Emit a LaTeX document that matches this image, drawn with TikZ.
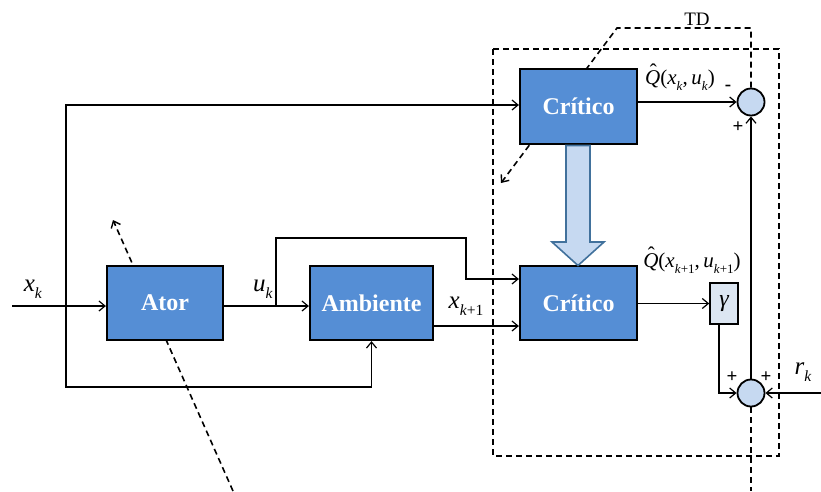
\documentclass[tikz,border=0pt]{standalone}
\usepackage{fontspec}
\setmainfont{Liberation Serif}
\usetikzlibrary{arrows.meta,backgrounds}
\definecolor{boxblue}{HTML}{558ED5}
\definecolor{lightblue}{HTML}{C6D9F1}
\definecolor{paleblue}{HTML}{DCE6F2}
\definecolor{arrowedge}{HTML}{41719C}
\newcommand{\sbs}[1]{\raisebox{-0.28em}{\scalebox{0.62}{#1}}}
\newcommand{\iv}[2]{\textit{#1}\sbs{#2}}
\newcommand{\qhat}{\makebox[0pt][l]{\hspace{0.22em}\raisebox{0.3em}{ˆ}}\textit{Q}}
\tikzset{
  blk/.style={draw=black, line width=2.2pt, fill=boxblue, text=white,
    font=\fontsize{24}{26}\selectfont\bfseries, minimum height=74pt, inner sep=0pt},
  sumc/.style={circle, draw=black, line width=1.8pt, fill=lightblue, minimum size=27pt, inner sep=0pt},
  gbox/.style={draw=black, line width=1.6pt, fill=paleblue, minimum width=28pt, minimum height=41pt, inner sep=0pt, font=\fontsize{24}{26}\selectfont\itshape},
  arr/.style={line width=1.2pt, -{Straight Barb[length=6pt,width=10pt,line width=1.2pt]}},
  dsh/.style={line width=1.6pt, dash pattern=on 6pt off 4pt},
  darr/.style={dsh, -{Straight Barb[length=6pt,width=10pt,line width=1.4pt]}},
  lbl/.style={font=\fontsize{25}{27}\selectfont, inner sep=0pt},
  qlbl/.style={font=\fontsize{21}{23}\selectfont, inner sep=0pt},
  sgn/.style={font=\fontsize{19}{21}\selectfont\bfseries, inner sep=0pt}
}
\begin{document}
\begin{tikzpicture}[x=1pt,y=-1pt]
\useasboundingbox (0,0) rectangle (821,491);
% blocks
\node[blk, minimum width=116pt] (ator) at (165,303) {Ator};
\node[blk, minimum width=123pt] (amb) at (371.5,303) {Ambiente};
\node[blk, minimum width=117pt, minimum height=75pt] (crit1) at (578.5,106.5) {Crítico};
\node[blk, minimum width=117pt] (crit2) at (578.5,303) {Crítico};
\node[gbox] (gam) at (724,303.5) {γ};
\node[sumc] (s1) at (751,102) {};
\node[sumc] (s2) at (751,393) {};
% big arrow
\draw[line width=1.6pt, draw=arrowedge, fill=lightblue]
  (566,145.5) -- (590,145.5) -- (590,242) -- (604,242) -- (578,265.5) -- (552,242) -- (566,242) -- cycle;
% coordinates
\coordinate (xin) at (12,306);
\coordinate (br1) at (66,306);
\coordinate (c1in) at (520,105);
\coordinate (bl) at (66,387);
\coordinate (ub) at (276,306);
\coordinate (uup) at (466,238);
\coordinate (c2a) at (466,279);
\coordinate (ao) at (433,326);
\coordinate (rin) at (821,393);
% connectors
\draw[arr] (xin) -- (ator.west |- xin);
\draw[arr] (br1) |- (crit1.west |- c1in);
\draw[arr] (br1) -- (bl) -| (amb.south);
\draw[arr] (ator.east |- xin) -- (amb.west |- xin);
\draw[arr] (ub) |- (uup) -- (c2a) -- (crit2.west |- c2a);
\draw[arr] (amb.east |- ao) -- (crit2.west |- ao);
\draw[arr] (crit1.east |- s1.west) -- (s1.west);
\draw[arr] (crit2.east |- gam.west) -- (gam.west);
\draw[arr] ([xshift=-5pt]gam.south) |- (s2.west);
\draw[arr] (rin) -- (s2.east);
\draw[arr] (s2.north) -- (s1.south);
% dashed elements behind
\begin{pgfonlayer}{background}
\draw[dsh] (493,49) rectangle (779,456);
\draw[darr] (s1.north) -- (751,28) -- (617,28) -- (501,183);
\draw[dsh] (s2.south) -- (751,491);
\draw[darr] (233,491) -- (113,220);
\end{pgfonlayer}
% labels
\node[lbl] (lxk) at (33,289) {\iv{x}{\textit{k}}};
\node[lbl] (luk) at (263,289) {\iv{u}{\textit{k}}};
\node[lbl] (lxk1) at (466,306) {\iv{x}{\textit{k}+1}};
\node[qlbl] (lq1) at (680,77) {\qhat(\iv{x}{\textit{k}},\,\iv{u}{\textit{k}})};
\node[qlbl] (lq2) at (692,260) {\qhat(\iv{x}{\textit{k}+1},\,\iv{u}{\textit{k}+1})};
\node[lbl] (lrk) at (803,372) {\iv{r}{\textit{k}}};
\node[font=\fontsize{19}{21}\selectfont] (ltd) at (697,19) {TD};
\node[sgn] (m1) at (728,88) {-};
\node[sgn] (p1) at (738,127) {+};
\node[sgn] (p2) at (732,377) {+};
\node[sgn] (p3) at (766,377) {+};
\end{tikzpicture}
\end{document}
